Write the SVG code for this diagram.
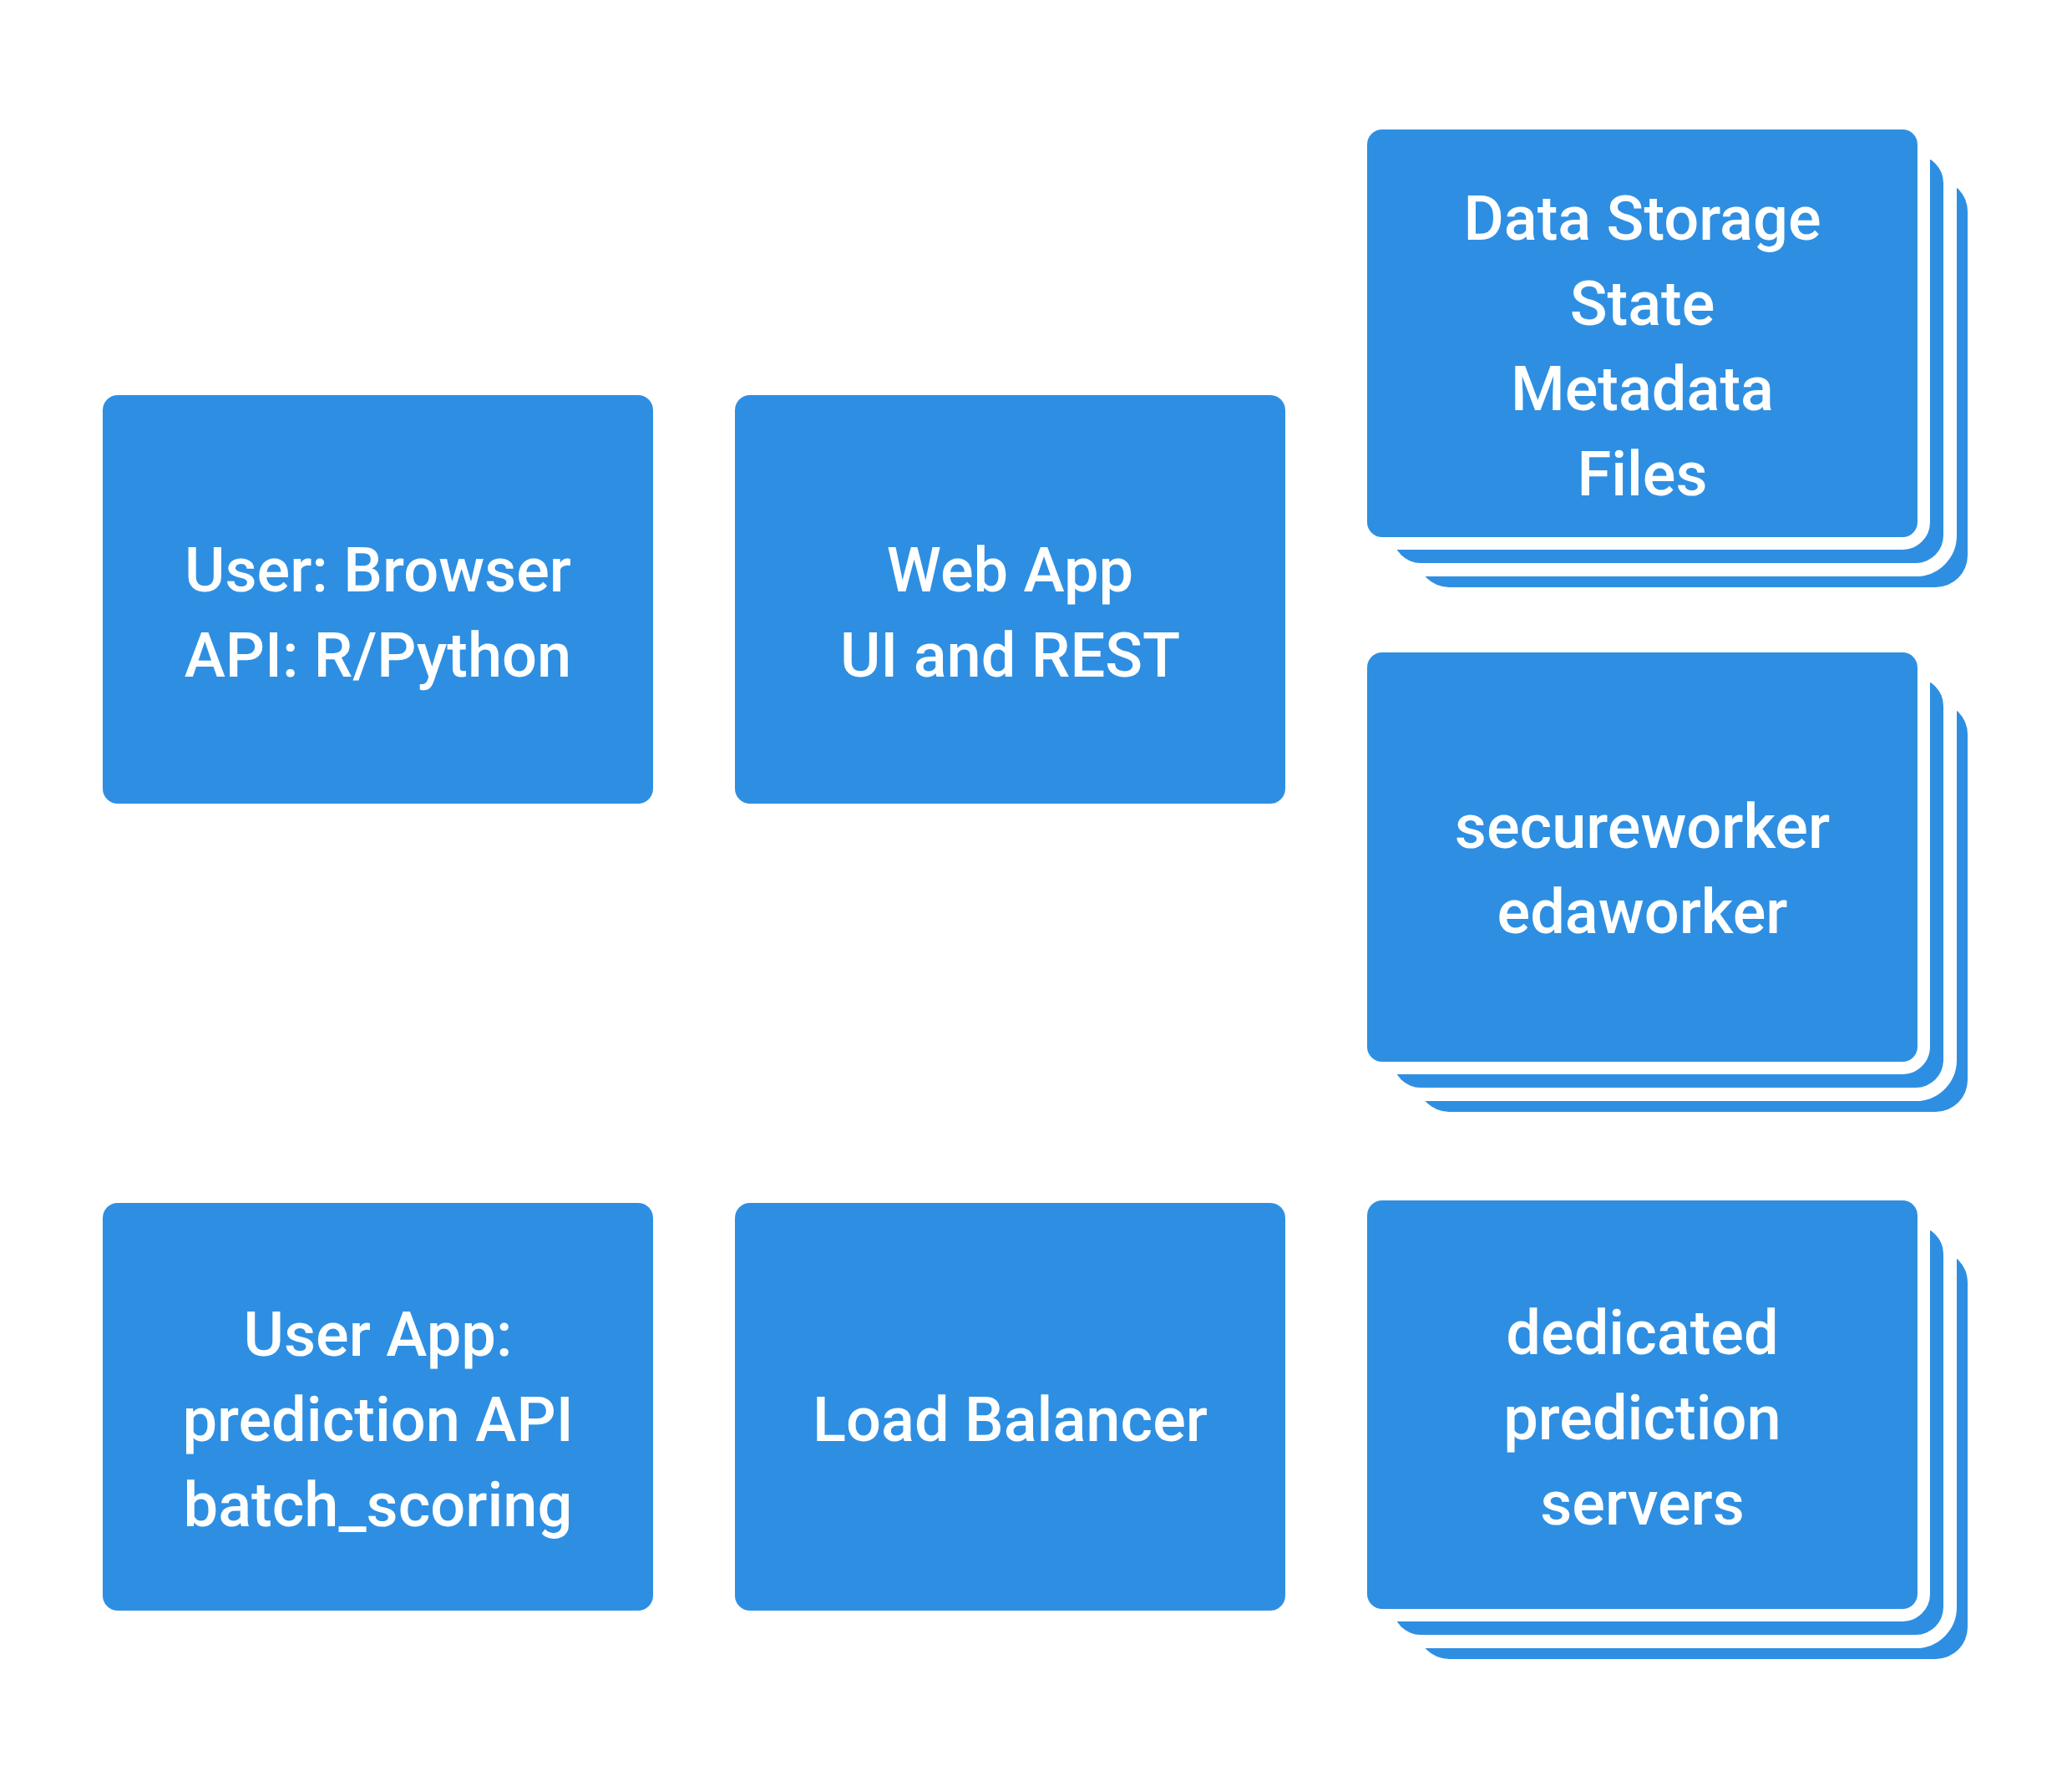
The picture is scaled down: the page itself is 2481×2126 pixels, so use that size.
<svg xmlns="http://www.w3.org/2000/svg" width="2481" height="2126" viewBox="0 0 2481 2126">
<style>
.box{fill:#2E8FE2;}
.l2{fill:#2E8FE2;stroke:#FFFFFF;stroke-width:32;paint-order:stroke fill;}
.l1{fill:#2E8FE2;stroke:#FFFFFF;stroke-width:30;paint-order:stroke fill;}
.t{font-family:Roboto,"Liberation Sans",sans-serif;font-size:74px;font-weight:500;fill:#FFFFFF;text-anchor:middle;}
</style>
<rect x="0" y="0" width="2481" height="2126" fill="#FFFFFF"/>

<g id="user-browser">
<rect class="box" x="123" y="473" width="659" height="489" rx="18"/>
<text class="t" x="452.5" y="707.5">User: Browser</text>
<text class="t" x="452.5" y="809.5">API: R/Python</text>
</g>

<g id="web-app">
<rect class="box" x="880" y="473" width="659" height="489" rx="18"/>
<text class="t" x="1209.5" y="707.5">Web App</text>
<text class="t" x="1209.5" y="809.5">UI and REST</text>
</g>

<g id="data-storage">
<rect class="box" x="1697" y="215" width="659" height="488" rx="38"/>
<rect class="l2" x="1668" y="186" width="659" height="488" rx="33"/>
<rect class="l1" x="1637" y="155" width="659" height="488" rx="18"/>
<text class="t" x="1966.5" y="287">Data Storage</text>
<text class="t" x="1966.5" y="389">State</text>
<text class="t" x="1966.5" y="491">Metadata</text>
<text class="t" x="1966.5" y="593">Files</text>
</g>

<g id="workers">
<rect class="box" x="1697" y="841" width="659" height="490" rx="38"/>
<rect class="l2" x="1668" y="812" width="659" height="490" rx="33"/>
<rect class="l1" x="1637" y="781" width="659" height="490" rx="18"/>
<text class="t" x="1966.5" y="1015">secureworker</text>
<text class="t" x="1966.5" y="1117">edaworker</text>
</g>

<g id="user-app">
<rect class="box" x="123" y="1440" width="659" height="488" rx="18"/>
<text class="t" x="452.5" y="1623">User App:</text>
<text class="t" x="452.5" y="1725">prediction API</text>
<text class="t" x="452.5" y="1827">batch_scoring</text>
</g>

<g id="load-balancer">
<rect class="box" x="880" y="1440" width="659" height="488" rx="18"/>
<text class="t" x="1209.5" y="1725">Load Balancer</text>
</g>

<g id="prediction-servers">
<rect class="box" x="1697" y="1497" width="659" height="489" rx="38"/>
<rect class="l2" x="1668" y="1468" width="659" height="489" rx="33"/>
<rect class="l1" x="1637" y="1437" width="659" height="489" rx="18"/>
<text class="t" x="1966.5" y="1620.5">dedicated</text>
<text class="t" x="1966.5" y="1722.5">prediction</text>
<text class="t" x="1966.5" y="1824.5">servers</text>
</g>
</svg>
